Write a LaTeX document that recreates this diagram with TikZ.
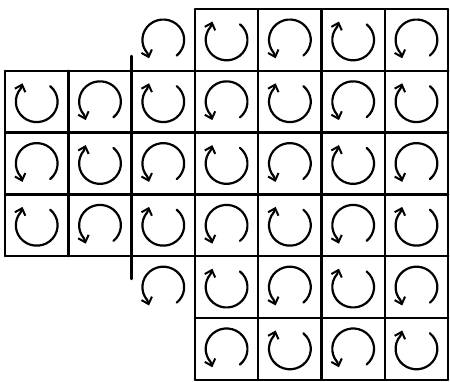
\documentclass[tikz,border=0pt]{standalone}
\usetikzlibrary{arrows.meta}

\begin{document}
\begin{tikzpicture}[
      x=63.3pt, y=61.8pt,
      cellline/.style = {line width=2.4pt, line cap=round},
      turn/.style     = {line width=2.2pt, line cap=round,
                         -{Straight Barb[length=6pt,width=11pt,line width=2pt]}},
      cw/.pic  = {\draw[turn] (50:0.33) arc[start angle=50, end angle=-220, radius=0.33]
                    -- ++(72:0.09);},
      ccw/.pic = {\draw[turn] (-50:0.33) arc[start angle=-50, end angle=220, radius=0.33]
                    -- ++(-72:0.09);}
    ]
    \useasboundingbox (-0.08,-0.03) rectangle (7.03,6.146);

    % middle band and the two blocks on the right
    \draw[cellline] (0,2) grid[step=1] (7,5);
    \draw[cellline] (3,5) grid[step=1] (7,6);
    \draw[cellline] (3,0) grid[step=1] (7,2);

    % short stubs beside the open cells
    \coordinate (upA) at (2,5);
    \coordinate (upB) at (2,5.24);
    \coordinate (loA) at (2,2);
    \coordinate (loB) at (2,1.63);
    \draw[cellline] (upA) -- (upB);
    \draw[cellline] (loA) -- (loB);

    % clockwise turns
    \foreach \c/\r in {3/5.5, 5/5.5,
                       0/4.5, 2/4.5, 4/4.5, 6/4.5,
                       1/3.5, 3/3.5, 5/3.5,
                       0/2.5, 2/2.5, 4/2.5, 6/2.5,
                       3/1.5, 5/1.5,
                       4/0.5, 6/0.5}
      \pic at (\c+0.5,\r) {cw};

    % counter-clockwise turns
    \foreach \c/\r in {2/5.5, 4/5.5, 6/5.5,
                       1/4.5, 3/4.5, 5/4.5,
                       0/3.5, 2/3.5, 4/3.5, 6/3.5,
                       1/2.5, 3/2.5, 5/2.5,
                       2/1.5, 4/1.5, 6/1.5,
                       3/0.5, 5/0.5}
      \pic at (\c+0.5,\r) {ccw};
  \end{tikzpicture}
\end{document}
